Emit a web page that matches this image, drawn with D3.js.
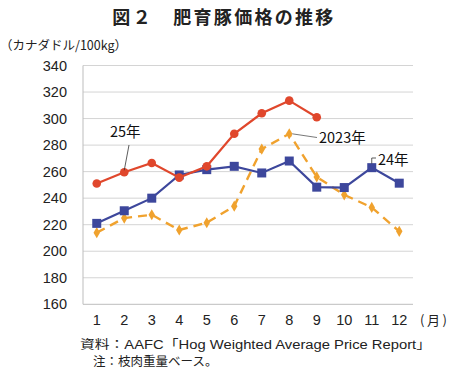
<!DOCTYPE html>
<html><head><meta charset="utf-8">
<script src="https://cdn.jsdelivr.net/npm/d3@7"></script>
<style>body{margin:0;background:#fff}svg{display:block}</style>
</head><body>
<script>
const months = [1,2,3,4,5,6,7,8,9,10,11,12];
const yTicks = [160,180,200,220,240,260,280,300,320,340];
const s2025 = [251,259.5,266.5,255.5,264,288.5,304,313.5,301];
const s2024 = [221,230.5,240,257.5,261.5,264,259,268,248.3,248,263,251.3];
const s2023 = [214,225,227.5,216,221.5,234,277,288.5,256,242.5,233,215];

const W=450,H=378;
const svg=d3.select("body").append("svg").attr("width",W).attr("height",H);
const font='"Noto Sans CJK JP","Liberation Sans",Arial,sans-serif';
const mixFont='"Liberation Sans","Noto Sans CJK JP",Arial,sans-serif';
const numFont='"Liberation Sans",Arial,sans-serif';

const x=d3.scaleBand().domain(months).range([83,413]);
const y=d3.scaleLinear().domain([160,340]).range([304.3,65.5]);
const cx=m=>x(m)+x.bandwidth()/2;

// title
svg.append("text").attr("x",224).attr("y",24).attr("text-anchor","middle")
 .attr("font-family",font).attr("font-size",18).attr("font-weight",700)
 .attr("fill","#222").attr("letter-spacing",2.3).text("図２　肥育豚価格の推移");
svg.append("text").attr("x",0).attr("y",50).attr("font-family",font).attr("font-size",12.5)
 .attr("fill","#222").text("（カナダドル/100kg）");

// grid
const g=svg.append("g");
g.selectAll("line.grid").data(yTicks.filter(v=>v>160)).join("line")
 .attr("x1",83).attr("x2",413).attr("y1",d=>y(d)).attr("y2",d=>y(d))
 .attr("stroke","#d4d4d4").attr("stroke-width",1);
g.append("line").attr("x1",83).attr("x2",413).attr("y1",y(160)).attr("y2",y(160)).attr("stroke","#bdbdbd");
g.append("line").attr("x1",83).attr("x2",83).attr("y1",y(340)).attr("y2",y(160)).attr("stroke","#bdbdbd");

// axes labels
const yAxis=svg.append("g").attr("transform","translate(83,0)")
 .call(d3.axisLeft(y).tickValues(yTicks).tickSize(0).tickPadding(16));
yAxis.select(".domain").remove();
yAxis.selectAll("text").attr("font-family",numFont).attr("font-size",14.5).attr("fill","#222");
const xAxis=svg.append("g").attr("transform",`translate(0,${y(160)})`)
 .call(d3.axisBottom(x).tickSize(0).tickPadding(10));
xAxis.select(".domain").remove();
xAxis.selectAll("text").attr("font-family",numFont).attr("font-size",14.5).attr("fill","#222");
svg.append("text").attr("x",420).attr("y",325).attr("font-family",font).attr("font-size",13)
 .attr("fill","#222").attr("textLength",27).attr("lengthAdjust","spacing").text("(月)");

const line=d3.line().x((d,i)=>cx(months[i])).y(d=>y(d));
// 2023
const c23="#f0a22e";
svg.append("path").datum(s2023).attr("d",line).attr("fill","none").attr("stroke",c23)
 .attr("stroke-width",2.4).attr("stroke-dasharray","9,6");
svg.selectAll("path.d23").data(s2023).join("path")
 .attr("d",d3.symbol(d3.symbolDiamond,36)).attr("fill",c23)
 .attr("transform",(d,i)=>`translate(${cx(months[i])},${y(d)})`);
// 2024
const c24="#3d479c";
svg.append("path").datum(s2024).attr("d",line).attr("fill","none").attr("stroke",c24).attr("stroke-width",2.2);
svg.selectAll("rect.s24").data(s2024).join("rect")
 .attr("x",(d,i)=>cx(months[i])-4.5).attr("y",d=>y(d)-4.5).attr("width",9).attr("height",9).attr("fill",c24);
// 2025
const c25="#e0472c";
svg.append("path").datum(s2025).attr("d",line).attr("fill","none").attr("stroke",c25).attr("stroke-width",2.2);
svg.selectAll("circle.s25").data(s2025).join("circle")
 .attr("cx",(d,i)=>cx(months[i])).attr("cy",d=>y(d)).attr("r",4.3).attr("fill",c25);

// annotations
const ann=svg.append("g").attr("font-family",font).attr("font-size",14.5).attr("fill","#111");
ann.append("text").attr("x",110).attr("y",137).text("25年");
svg.append("line").attr("x1",129).attr("y1",145).attr("x2",cx(2)).attr("y2",y(s2025[1])-2).attr("stroke","#333").attr("stroke-width",0.8);
ann.append("text").attr("x",319).attr("y",143).text("2023年");
svg.append("line").attr("x1",cx(8)+3).attr("y1",y(s2023[7])).attr("x2",317).attr("y2",137.5).attr("stroke","#555").attr("stroke-width",0.8);
ann.append("text").attr("x",378).attr("y",165).text("24年");
svg.append("path").attr("d",`M${cx(11)},${y(s2024[10])-4} L${cx(11)},158 L376,158`).attr("fill","none").attr("stroke","#333").attr("stroke-width",0.8);

// source
const src=svg.append("g").attr("font-family",mixFont).attr("font-size",12.5).attr("fill","#222");
src.append("text").attr("x",80).attr("y",349).attr("textLength",351).attr("lengthAdjust","spacingAndGlyphs")
 .text("資料：AAFC「Hog Weighted Average Price Report」");
src.append("text").attr("x",93).attr("y",366).attr("font-family",font).text("注：枝肉重量ベース。");
</script>
</body></html>
